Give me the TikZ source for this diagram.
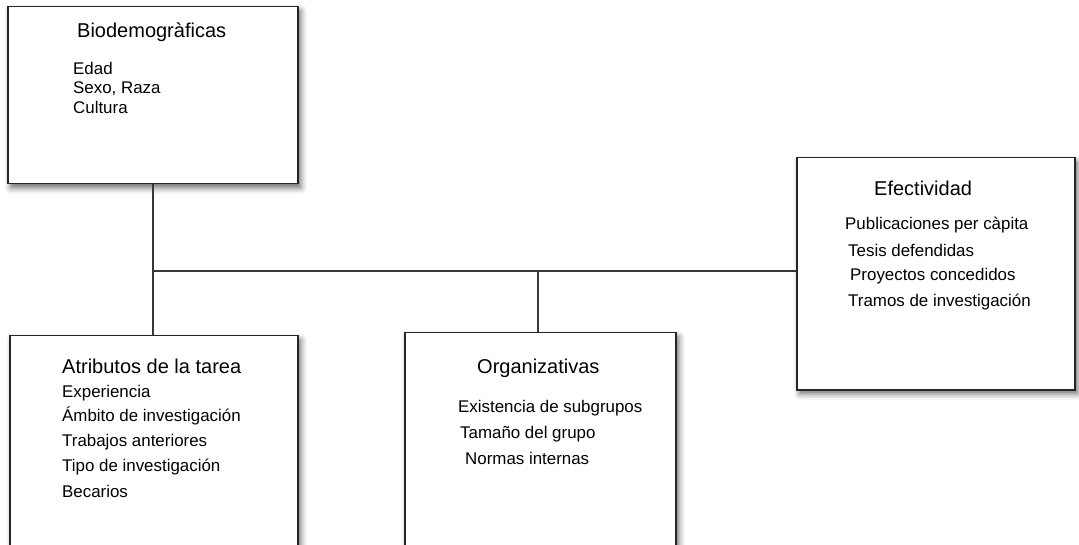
\documentclass[tikz,border=0pt]{standalone}
\usepackage{fontspec}
\setmainfont{Liberation Sans}
\usetikzlibrary{shadows.blur}
\definecolor{boxline}{gray}{0.15}
\definecolor{conline}{gray}{0.22}
\tikzset{
  panel/.style={draw=boxline, line width=1.5bp, fill=white, anchor=north west, inner sep=0pt,
    blur shadow={shadow xshift=3bp, shadow yshift=-4bp, shadow blur radius=6bp, shadow opacity=60}},
  ttl/.style={anchor=base west, inner sep=0pt, font=\fontsize{20bp}{22bp}\selectfont},
  itm/.style={anchor=base west, inner sep=0pt, font=\fontsize{16.9bp}{19bp}\selectfont},
  con/.style={draw=conline, line width=1.3bp}
}
\begin{document}
\begin{tikzpicture}[x=1bp,y=-1bp]
\useasboundingbox (0,0) rectangle (1079,545);
% boxes
\node[panel, minimum width=290bp, minimum height=177bp] (bio) at (7,6) {};
\node[panel, minimum width=278bp, minimum height=232bp] (efe) at (796,157) {};
\node[panel, minimum width=288bp, minimum height=230bp] (atr) at (9,335) {};
\node[panel, minimum width=271bp, minimum height=230bp] (org) at (404,332) {};
% connectors
\coordinate (j1) at (153,271);
\coordinate (j2) at (538,271);
\draw[con] (bio.south -| j1) -- (atr.north -| j1);
\draw[con] (j1) -- (j1 -| efe.west);
\draw[con] (j2) -- (j2 |- org.north);
% Biodemograficas
\node[ttl] (bioT) at (77,38) {Biodemogràficas};
\node[itm] (bio1) at (73,75) {Edad};
\node[itm] (bio2) at (73,94) {Sexo, Raza};
\node[itm] (bio3) at (73,114) {Cultura};
% Efectividad
\node[ttl] (efeT) at (874,196) {Efectividad};
\node[itm] (efe1) at (845,230) {Publicaciones per càpita};
\node[itm] (efe2) at (848,257) {Tesis defendidas};
\node[itm] (efe3) at (850,281) {Proyectos concedidos};
\node[itm] (efe4) at (848,307) {Tramos de investigación};
% Atributos
\node[ttl] (atrT) at (62,374) {Atributos de la tarea};
\node[itm] (atr1) at (62,397) {Experiencia};
\node[itm] (atr2) at (62,421) {Ámbito de investigación};
\node[itm] (atr3) at (62,446) {Trabajos anteriores};
\node[itm] (atr4) at (62,471) {Tipo de investigación};
\node[itm] (atr5) at (62,497) {Becarios};
% Organizativas
\node[ttl] (orgT) at (477,374) {Organizativas};
\node[itm] (org1) at (458,412) {Existencia de subgrupos};
\node[itm] (org2) at (460,438) {Tamaño del grupo};
\node[itm] (org3) at (465,464) {Normas internas};
\end{tikzpicture}
\end{document}
